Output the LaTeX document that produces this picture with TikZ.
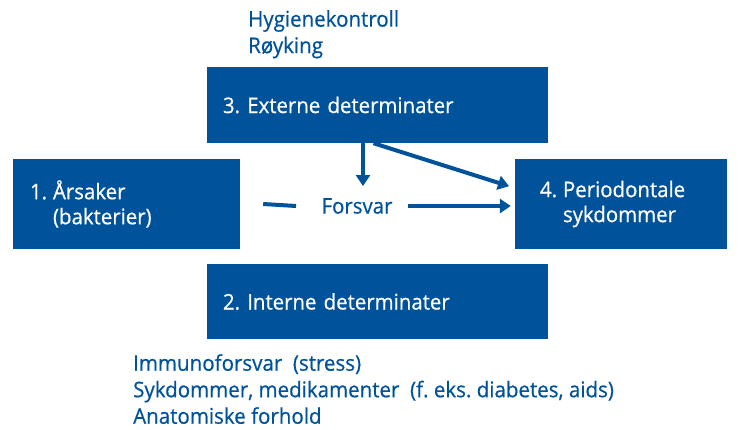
\documentclass[tikz,border=0pt]{standalone}
\usepackage{fontspec}
\setmainfont{Open Sans}[FakeBold=0.6,FakeStretch=0.95]
\usetikzlibrary{arrows.meta,positioning}
\definecolor{boxblue}{RGB}{0,82,155}
\newcommand{\numlabel}[1]{\makebox[23pt][l]{#1}}
\frenchspacing
\begin{document}
\begin{tikzpicture}[x=1pt,y=-1pt,font={\fontsize{21.5}{25}\selectfont},
  box/.style={fill=boxblue,text=white,align=left,inner ysep=0pt},
  note/.style={text=boxblue,align=left,anchor=north west,inner sep=0pt,
    font={\fontsize{21.6}{26.5}\selectfont}},
  arr/.style={line width=4pt,draw=boxblue,-{Triangle[length=11pt,width=14pt]}}]
\useasboundingbox (0,0) rectangle (739,429);

% boxes
\node[box,minimum height=90,inner xsep=17pt,text width=193pt] (cause) at (126.5,204)
  {\numlabel{1.}Årsaker\\\hspace*{23pt}(bakterier)};
\node[box,minimum height=76,inner xsep=16pt,text width=309pt] (ext) at (377.5,105)
  {3. Externe determinater};
\node[box,minimum height=75,inner xsep=16pt,text width=309pt] (int) at (377.5,301.5)
  {2. Interne determinater};
\node[box,minimum height=90,inner xsep=25pt,text width=162pt] (disease) at (621,204)
  {\numlabel{4.}Periodontale\\\hspace*{23pt}sykdommer};

\node[text=boxblue] (fors) at (357,206) {Forsvar};

% lists
\node[note] (extlist) at (248,10) {Hygienekontroll\\Røyking};
\node[note] (intlist) at (133,354)
  {Immunoforsvar\ \ (stress)\\Sykdommer, medikamenter\ \ (f. eks. diabetes, aids)\\Anatomiske forhold};

% connectors
\coordinate (drop) at (363,186);
\draw[arr] (drop |- ext.south) -- (drop);
\draw[arr,shorten >=6pt] ([xshift=-4pt]ext.south) -- (disease.west |- 0,188);
\draw[line width=4pt,draw=boxblue] ([xshift=23pt]cause.east) -- ([xshift=-22pt]fors.west);
\draw[arr,shorten >=4pt] ([xshift=12pt]fors.east) -- (disease.west |- fors);
\end{tikzpicture}
\end{document}
